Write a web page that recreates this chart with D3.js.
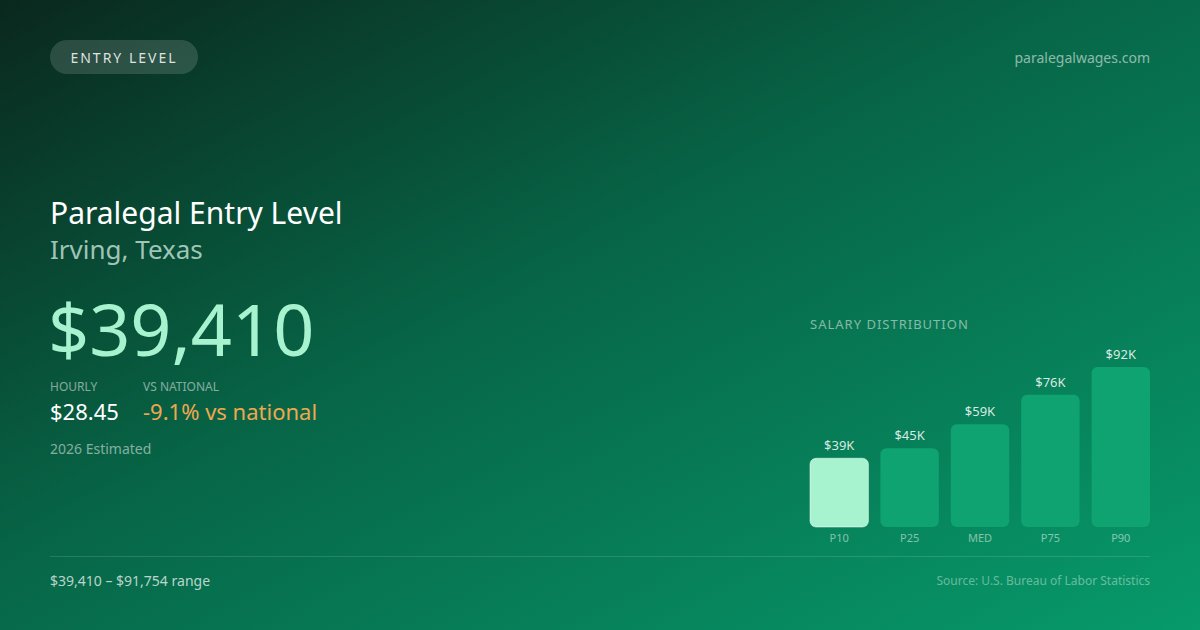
<!DOCTYPE html>
<meta charset="utf-8">
<script src="https://d3js.org/d3.v7.min.js"></script>
<style>
  html, body { margin: 0; padding: 0; background: #0b2a20; }
  svg { display: block; font-family: "Noto Sans", "Open Sans", sans-serif; }
</style>
<div id="card"></div>
<script>
// chart data
var categories = ["P10", "P25", "MED", "P75", "P90"];
var salaries = [39410, 45200, 58900, 75800, 91754];
var valueLabels = ["$39K", "$45K", "$59K", "$76K", "$92K"];

var width = 1200, height = 630;

var svg = d3.select("#card").append("svg")
    .attr("width", width)
    .attr("height", height);

// background gradient
var defs = svg.append("defs");
var bg = defs.append("linearGradient")
    .attr("id", "bg")
    .attr("x1", "0%").attr("y1", "0%")
    .attr("x2", "100%").attr("y2", "100%");
bg.append("stop").attr("offset", "0%").attr("stop-color", "#0a281d");
bg.append("stop").attr("offset", "45%").attr("stop-color", "#076647");
bg.append("stop").attr("offset", "100%").attr("stop-color", "#079a6a");

svg.append("rect")
    .attr("width", width)
    .attr("height", height)
    .attr("fill", "url(#bg)");

// badge
svg.append("rect")
    .attr("x", 50).attr("y", 40)
    .attr("width", 148).attr("height", 34)
    .attr("rx", 17)
    .attr("fill", "rgba(255,255,255,0.14)");
svg.append("text")
    .attr("x", 124).attr("y", 63)
    .attr("text-anchor", "middle")
    .attr("fill", "rgba(255,255,255,0.85)")
    .style("font-size", "14px")
    .style("letter-spacing", "2px")
    .text("ENTRY LEVEL");

svg.append("text")
    .attr("x", 1150).attr("y", 63)
    .attr("text-anchor", "end")
    .attr("fill", "rgba(255,255,255,0.55)")
    .style("font-size", "14px")
    .text("paralegalwages.com");

// title block
svg.append("text")
    .attr("x", 50).attr("y", 224)
    .attr("fill", "#ffffff")
    .style("font-size", "30px")
    .text("Paralegal Entry Level");
svg.append("text")
    .attr("x", 50).attr("y", 259)
    .attr("fill", "rgba(220,245,235,0.72)")
    .style("font-size", "26px")
    .text("Irving, Texas");

svg.append("text")
    .attr("x", 48).attr("y", 356)
    .attr("fill", "#a7f3d0")
    .style("font-size", "72px")
    .text("$39,410");

svg.append("text")
    .attr("x", 50).attr("y", 391)
    .attr("fill", "rgba(255,255,255,0.5)")
    .style("font-size", "12px")
    .text("HOURLY");
svg.append("text")
    .attr("x", 143).attr("y", 391)
    .attr("fill", "rgba(255,255,255,0.5)")
    .style("font-size", "12px")
    .text("VS NATIONAL");
svg.append("text")
    .attr("x", 50).attr("y", 420)
    .attr("fill", "#ffffff")
    .style("font-size", "22px")
    .text("$28.45");
svg.append("text")
    .attr("x", 143).attr("y", 420)
    .attr("fill", "#f0a750")
    .style("font-size", "22px")
    .text("-9.1% vs national");
svg.append("text")
    .attr("x", 50).attr("y", 454)
    .attr("fill", "rgba(255,255,255,0.5)")
    .style("font-size", "14px")
    .text("2026 Estimated");

// salary distribution bars
svg.append("text")
    .attr("x", 810).attr("y", 329)
    .attr("fill", "rgba(255,255,255,0.5)")
    .style("font-size", "13px")
    .style("letter-spacing", "1px")
    .text("SALARY DISTRIBUTION");

var x = d3.scaleBand()
    .domain(categories)
    .range([810, 1150])
    .paddingInner(0.17)
    .paddingOuter(0);

var y = d3.scaleLinear()
    .domain([0, d3.max(salaries)])
    .range([527, 367]);

var bars = svg.append("g");
bars.selectAll("rect")
    .data(salaries)
    .enter()
    .append("rect")
      .attr("x", function(d, i) { return x(categories[i]); })
      .attr("y", function(d) { return y(d); })
      .attr("width", x.bandwidth())
      .attr("height", function(d) { return y(0) - y(d); })
      .attr("rx", 6)
      .attr("fill", function(d, i) { return i == 0 ? "#a7f3d0" : "#0ea371"; })
      .attr("stroke", function(d, i) { return i == 0 ? "rgba(255,255,255,0.5)" : "none"; })
      .attr("stroke-width", 1);

bars.selectAll(".val")
    .data(salaries)
    .enter()
    .append("text")
      .attr("class", "val")
      .attr("x", function(d, i) { return x(categories[i]) + x.bandwidth() / 2; })
      .attr("y", function(d) { return y(d) - 8; })
      .attr("text-anchor", "middle")
      .attr("fill", "rgba(255,255,255,0.85)")
      .style("font-size", "13px")
      .text(function(d, i) { return valueLabels[i]; });

var xAxis = svg.append("g")
    .attr("transform", "translate(0,527)")
    .call(d3.axisBottom(x).tickSize(0).tickPadding(7));
xAxis.select(".domain").remove();
xAxis.selectAll("text")
    .attr("fill", "rgba(255,255,255,0.5)")
    .style("font-family", "'Noto Sans', sans-serif")
    .style("font-size", "11px");

// footer
svg.append("line")
    .attr("x1", 50).attr("x2", 1150)
    .attr("y1", 556.5).attr("y2", 556.5)
    .attr("stroke", "rgba(255,255,255,0.13)");

svg.append("text")
    .attr("x", 50).attr("y", 586)
    .attr("fill", "rgba(255,255,255,0.72)")
    .style("font-size", "14px")
    .text("$39,410 – $91,754 range");
svg.append("text")
    .attr("x", 1150).attr("y", 585)
    .attr("text-anchor", "end")
    .attr("fill", "rgba(255,255,255,0.4)")
    .style("font-size", "12px")
    .text("Source: U.S. Bureau of Labor Statistics");
</script>
